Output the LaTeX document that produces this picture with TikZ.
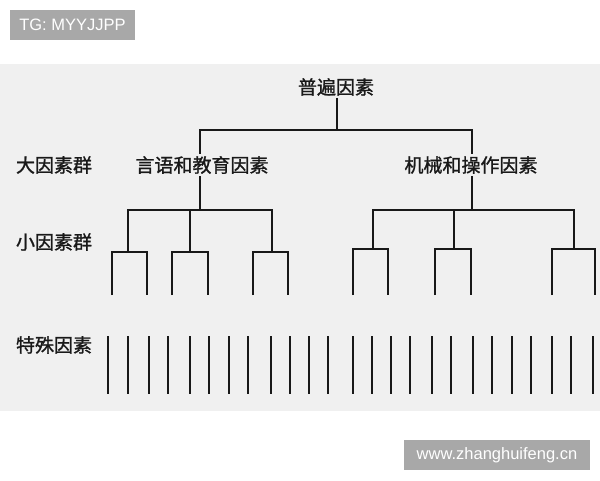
\documentclass[tikz,border=0pt]{standalone}
\usepackage{fontspec}
\usepackage{tikz}
\usepackage{xcolor}
\newfontfamily\cjk[FakeBold=1.2]{Noto Sans CJK SC}
\newfontfamily\latinsans{Liberation Sans}
\definecolor{paper}{HTML}{F0F0F0}
\definecolor{markgray}{HTML}{A8A8A8}

\begin{document}
\begin{tikzpicture}[x=1pt, y=-1pt,
  factor/.style={inner sep=2pt, text=black!90, font=\cjk\fontsize{19}{19}\selectfont},
  tree/.style={line width=2pt, black!90},
  stamp/.style={fill=markgray, text=white, inner sep=0pt, font=\latinsans\fontsize{16.5}{16.5}\selectfont}]
\useasboundingbox (0,0) rectangle (600,480);
\fill[paper] (0,64) rectangle (600,411);

\node[stamp, minimum width=125, minimum height=30] (tg) at (72.5,25) {TG: MYYJJPP};
\node[stamp, minimum width=186, minimum height=30] (site) at (497,455) {www.zhanghuifeng.cn};

\node[factor] (root) at (336,87) {普遍因素};
\node[factor] (big1) at (202,165) {言语和教育因素};
\node[factor] (big2) at (471,165) {机械和操作因素};
\node[factor] (lvl1) at (54,165) {大因素群};
\node[factor] (lvl2) at (54,242) {小因素群};
\node[factor] (lvl3) at (54,345) {特殊因素};

% top level
\coordinate (top) at (337,130);
\draw[tree] (root.south -| top) -- (top);
\draw[tree] (big1.north -| 200,0) |- (top) -| (big2.north -| 472,0);

% left group
\coordinate (b1) at (200,210);
\foreach \c/\l/\r [count=\i] in {128/112/147, 190/172/208, 272/253/288} {
  \coordinate (a\i) at (\c,252);
  \coordinate (a\i l) at (\l,295);
  \coordinate (a\i r) at (\r,295);
  \draw[tree] (a\i l) |- (a\i) -| (a\i r);
}
\draw[tree] (big1.south -| b1) -- (b1);
\draw[tree] (a1) |- (b1) -| (a3);
\draw[tree] (a2) -- (a2 |- b1);

% right group
\coordinate (b2) at (472,210);
\foreach \c/\l/\r [count=\i] in {373/353/388, 454/435/471, 574/552/595} {
  \coordinate (c\i) at (\c,249);
  \coordinate (c\i l) at (\l,295);
  \coordinate (c\i r) at (\r,295);
  \draw[tree] (c\i l) |- (c\i) -| (c\i r);
}
\draw[tree] (big2.south -| b2) -- (b2);
\draw[tree] (c1) |- (b2) -| (c3);
\draw[tree] (c2) -- (c2 |- b2);

% special factors
\foreach \x in {108,128,149,168,190,209,229,248,271,290,309,328,353,372,391,410,432,451,473,492,512,531,552,571,593}
  \draw[tree] (\x,336) -- (\x,394);
\end{tikzpicture}
\end{document}
